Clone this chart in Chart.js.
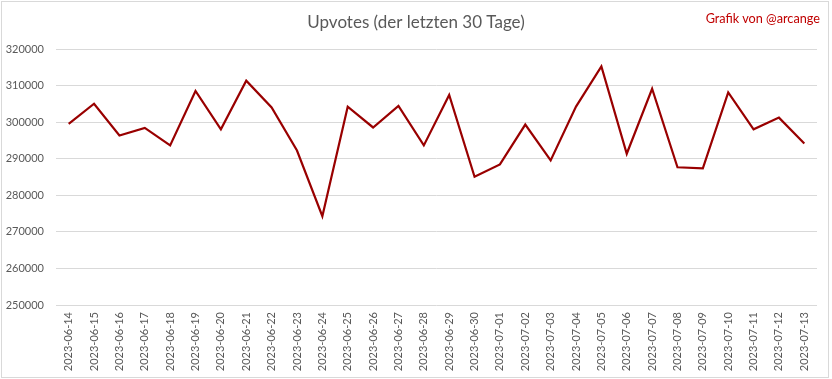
<!DOCTYPE html>
<html>
<head>
<meta charset="utf-8">
<script src="https://cdn.jsdelivr.net/npm/chart.js@4/dist/chart.umd.min.js"></script>
<style>
  html, body { margin: 0; padding: 0; background: #ffffff; }
  #wrap { position: relative; width: 832px; height: 379px; }
  #credit { position: absolute; right: 12px; top: 10px; font-family: Lato, "Liberation Sans", sans-serif; font-size: 12.7px; color: #c00000; }
</style>
</head>
<body>
<div id="wrap">
  <canvas id="c" width="832" height="379"></canvas>
  <div id="credit">Grafik von @arcange</div>
</div>
<script>
const titleText = "Upvotes (der letzten 30 Tage)";
const dates = [
  "2023-06-14","2023-06-15","2023-06-16","2023-06-17","2023-06-18","2023-06-19","2023-06-20",
  "2023-06-21","2023-06-22","2023-06-23","2023-06-24","2023-06-25","2023-06-26","2023-06-27",
  "2023-06-28","2023-06-29","2023-06-30","2023-07-01","2023-07-02","2023-07-03","2023-07-04",
  "2023-07-05","2023-07-06","2023-07-07","2023-07-08","2023-07-09","2023-07-10","2023-07-11",
  "2023-07-12","2023-07-13"
];
const upvotes = [
  299600, 305100, 296400, 298500, 293700, 308600, 298100,
  311400, 304100, 292300, 274300, 304300, 298600, 304500,
  293700, 307500, 285100, 288500, 299400, 289600, 304300,
  315300, 291400, 309200, 287700, 287400, 308200, 298100,
  301300, 294200
];
const yMin = 250000;
const yMax = 320000;
const yStep = 10000;

const borderPlugin = {
  id: 'outerBorder',
  beforeDraw(chart) {
    const ctx = chart.ctx;
    ctx.save();
    ctx.fillStyle = '#ffffff';
    ctx.fillRect(0, 0, chart.width, chart.height);
    ctx.strokeStyle = '#d9d9d9';
    ctx.lineWidth = 1;
    ctx.strokeRect(1.5, 1.5, 827, 376);
    ctx.restore();
  }
};

new Chart(document.getElementById('c'), {
  type: 'line',
  data: {
    labels: dates,
    datasets: [{
      label: 'Upvotes',
      data: upvotes,
      yAxisID: 'y',
      borderColor: '#990000',
      backgroundColor: '#990000',
      borderWidth: 2.2,
      pointRadius: 0,
      tension: 0,
      fill: false
    }]
  },
  options: {
    responsive: false,
    animation: false,
    layout: { padding: 0 },
    plugins: {
      legend: { display: false },
      tooltip: { enabled: false },
      title: {
        display: true,
        text: titleText,
        color: '#595959',
        font: { family: 'Lato, "Liberation Sans", sans-serif', size: 17, weight: 'normal', lineHeight: 1.2 },
        padding: { top: 12, bottom: 16.9 }
      }
    },
    scales: {
      x: {
        offset: true,
        grid: { display: false, drawTicks: false },
        border: { display: false },
        ticks: {
          color: '#595959',
          font: { family: 'Lato, "Liberation Sans", sans-serif', size: 11 },
          minRotation: 90,
          maxRotation: 90,
          autoSkip: false,
          padding: 7
        },
        afterFit(scale) { scale.height = 74; }
      },
      y: {
        position: 'left',
        min: yMin,
        max: yMax,
        grid: { color: '#d9d9d9', lineWidth: 1, drawTicks: false },
        border: { display: false },
        ticks: {
          stepSize: yStep,
          color: '#595959',
          font: { family: 'Lato, "Liberation Sans", sans-serif', size: 11 },
          padding: 12,
          callback: (v) => String(v)
        },
        afterFit(scale) { scale.width = 56; }
      },
      rightSpacer: {
        type: 'linear',
        position: 'right',
        display: true,
        grid: { display: false, drawTicks: false },
        border: { display: false },
        ticks: { display: false },
        afterFit(scale) { scale.width = 15; }
      }
    }
  },
  plugins: [borderPlugin]
});
</script>
</body>
</html>
